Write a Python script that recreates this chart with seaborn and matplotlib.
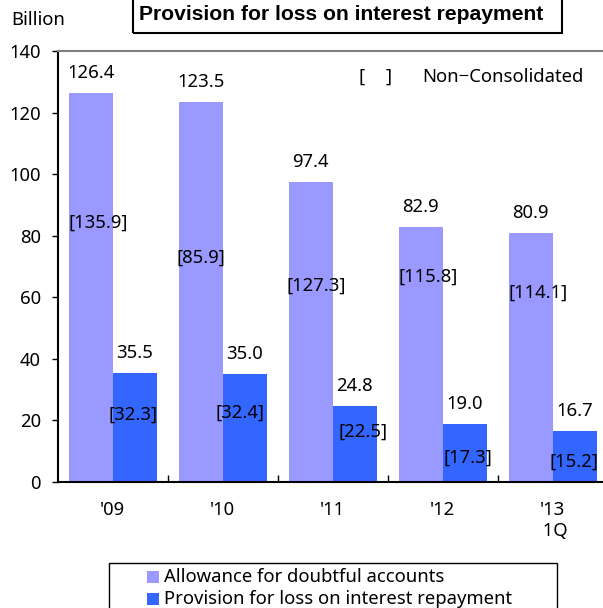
import matplotlib
matplotlib.use("Agg")
import matplotlib.pyplot as plt
from matplotlib.patches import Rectangle
import seaborn as sns
import pandas as pd

# ---- data ----
years = ["'09", "'10", "'11", "'12", "'13\n 1Q"]
series = ["Allowance for doubtful accounts", "Provision for loss on interest repayment"]
allowance = [126.4, 123.5, 97.4, 82.9, 80.9]
provision = [35.5, 35.0, 24.8, 19.0, 16.7]
nc_allowance = [135.9, 85.9, 127.3, 115.8, 114.1]
nc_provision = [32.3, 32.4, 22.5, 17.3, 15.2]
yticks = [0, 20, 40, 60, 80, 100, 120, 140]

# label placement for the bracketed (non-consolidated) figures
nc_allow_y = [84.3, 72.9, 63.8, 66.8, 61.5]
nc_allow_dx = [-0.134, -0.197, -0.15, -0.13, -0.13]
nc_prov_y = [21.8, 22.4, 16.3, 7.8, 6.5]
nc_prov_dx = [0.185, 0.16, 0.28, 0.23, 0.19]

colors = ["#9999FF", "#3366FF"]

df = pd.DataFrame({
    "year": years * 2,
    "series": [series[0]] * 5 + [series[1]] * 5,
    "value": allowance + provision,
})

sns.set_theme(style="white")
plt.rcParams["font.family"] = ["Noto Sans", "DejaVu Sans"]

FS = 13.3
W, H = 603, 608
fig = plt.figure(figsize=(W / 100, H / 100), dpi=100)
ax = fig.add_axes([57.7 / W, 1 - 482 / H, 550 / W, 431 / H])

sns.barplot(data=df, x="year", y="value", hue="series", hue_order=series,
            order=years, palette=colors, saturation=1, width=0.8, dodge=True,
            ax=ax, legend=False, edgecolor="none", linewidth=0)

ax.set_ylim(0, 140)
ax.set_xlim(-0.5, 4.5)
ax.set_xlabel("")
ax.set_ylabel("")
ax.set_yticks(yticks)
ax.set_yticklabels([str(v) for v in yticks], fontsize=FS)
ax.tick_params(axis="y", direction="out", length=4, width=1, color="black",
               pad=8, left=True, labelcolor="black")
ax.set_xticks(range(len(years)))
ax.set_xticklabels(years, fontsize=FS, linespacing=1.2)
ax.tick_params(axis="x", length=0, pad=14, labelcolor="black")
ax.set_xticks([0.5, 1.5, 2.5, 3.5], minor=True)
ax.tick_params(axis="x", which="minor", direction="in", length=5, width=1,
               color="black", bottom=True)

for s in ["left", "bottom"]:
    ax.spines[s].set_color("black")
    ax.spines[s].set_linewidth(1.5)
ax.spines["top"].set_color("#808080")
ax.spines["top"].set_linewidth(1.5)
ax.spines["right"].set_visible(False)
ax.grid(False)

# value labels above bars
for cont, vals in zip(ax.containers, [allowance, provision]):
    for bar, v in zip(cont, vals):
        ax.annotate(f"{v:.1f}", (bar.get_x() + bar.get_width() / 2, bar.get_height()),
                    xytext=(0, 20), textcoords="offset pixels",
                    ha="center", va="center", fontsize=FS, color="black")

# bracketed non-consolidated labels
for i in range(len(years)):
    ax.text(i + nc_allow_dx[i], nc_allow_y[i], f"[{nc_allowance[i]:.1f}]",
            ha="center", va="center", fontsize=FS, color="black")
    ax.text(i + nc_prov_dx[i], nc_prov_y[i], f"[{nc_provision[i]:.1f}]",
            ha="center", va="center", fontsize=FS, color="black")

# Non-consolidated note
fig.text(358 / W, 1 - 77 / H, "[", ha="left", va="center", fontsize=FS, color="black")
fig.text(392 / W, 1 - 77 / H, "]", ha="right", va="center", fontsize=FS, color="black")
fig.text(584 / W, 1 - 77 / H, "Non\u2212Consolidated", ha="right", va="center",
         fontsize=FS, color="black")

# unit
fig.text(38 / W, 1 - 20 / H, "Billion", ha="center", va="center", fontsize=FS,
         color="black")

# title box
fig.patches.append(Rectangle((133 / W, 1 - 33 / H), 429 / W, 0.1,
                             transform=fig.transFigure, fill=False,
                             edgecolor="black", linewidth=1.5, clip_on=False))
fig.text(341 / W, 1 - 15 / H, "Provision for loss on interest repayment",
         ha="center", va="center", fontsize=15.2, fontweight="bold",
         family="Liberation Sans", color="black")

# legend box
fig.patches.append(Rectangle((109 / W, 1 - 563 / H - 0.1), 448 / W, 0.1,
                             transform=fig.transFigure, fill=False,
                             edgecolor="black", linewidth=1, clip_on=False))
for j, (lab, c) in enumerate(zip(series, colors)):
    yc = 577 + 22 * j
    fig.patches.append(Rectangle((147 / W, 1 - (yc + 6) / H), 12 / W, 12 / H,
                                 transform=fig.transFigure, facecolor=c,
                                 edgecolor="none"))
    fig.text(164 / W, 1 - yc / H, lab, ha="left", va="center", fontsize=FS,
             color="black")

fig.savefig("out.png", dpi=100)
